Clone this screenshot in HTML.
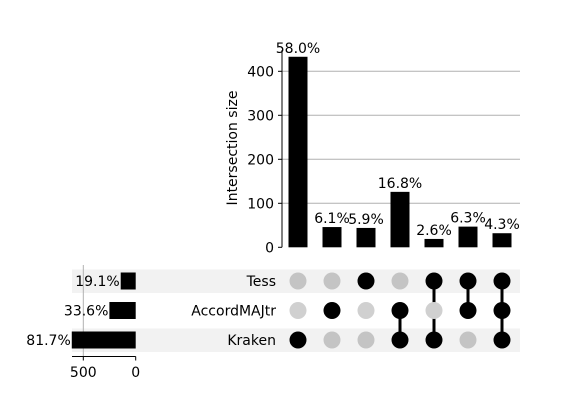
<!DOCTYPE html>
<html><head><meta charset="utf-8"><style>
body{margin:0;background:#fff}
svg text{font-family:"DejaVu Sans","Liberation Sans",sans-serif;font-size:14px;fill:#000}
</style></head><body>
<svg id="c" width="577" height="400" xmlns="http://www.w3.org/2000/svg"></svg>
<script>
const sets = ["Tess","AccordMAJtr","Kraken"];
const setSizes = [143, 251, 610];
const setPct = ["19.1%","33.6%","81.7%"];
const interSizes = [433, 46, 44, 126, 19, 47, 32];
const interPct = ["58.0%","6.1%","5.9%","16.8%","2.6%","6.3%","4.3%"];
const membership = [[2],[1],[0],[1,2],[0,2],[0,1],[0,1,2]];
const yTicks = [0,100,200,300,400];
const xTicks = [500,0];

const svg=document.getElementById('c');
const NS='http://www.w3.org/2000/svg';
function mk(t,a,p){const e=document.createElementNS(NS,t);for(const k in a)e.setAttribute(k,a[k]);(p||svg).appendChild(e);return e;}
const y=v=>247.3-v*0.44;
const cx=i=>298+i*34;
const rowY=j=>281+j*29.5;
const sx=v=>135.7-v*0.1048;

sets.forEach((s,j)=>{ if(j%2===0){const r=mk('rect',{x:72,y:rowY(j)-11.5,width:448,height:23.5,fill:'#f2f2f2'});

}});

yTicks.forEach(t=>{
  if(t>0){const g=mk('line',{x1:282,x2:520,y1:y(t),y2:y(t),stroke:'#b0b0b0','stroke-width':1});
  
  }
  mk('line',{x1:278,x2:282,y1:y(t),y2:y(t),stroke:'#000'});
  const tx=mk('text',{x:274,y:y(t)+5,'text-anchor':'end'});tx.textContent=t;
  
  
});
const ax=mk('line',{x1:282,x2:282,y1:y(0),y2:50,stroke:'#000'});


const yl=mk('text',{x:0,y:0,'text-anchor':'middle',transform:'translate(237,148) rotate(-90)'});yl.textContent='Intersection size';



interSizes.forEach((v,i)=>{
  const b=mk('rect',{x:cx(i)-9.5,y:y(v),width:19,height:y(0)-y(v),fill:'#000'});
  
  
  const t=mk('text',{x:cx(i),y:y(v)-4,'text-anchor':'middle'});t.textContent=interPct[i];
  
  
});

sets.forEach((s,j)=>{
  const t=mk('text',{x:276,y:rowY(j)+5,'text-anchor':'end'});t.textContent=s;
  
  
});
const vg=mk('line',{x1:sx(500),x2:sx(500),y1:265,y2:356,stroke:'#b0b0b0'});


sets.forEach((s,j)=>{
  const b=mk('rect',{x:sx(setSizes[j]),y:rowY(j)-8.5,width:sx(0)-sx(setSizes[j]),height:17,fill:'#000'});
  
  
  const t=mk('text',{x:sx(setSizes[j])-1,y:rowY(j)+5,'text-anchor':'end'});t.textContent=setPct[j];
  
  
});
const xa=mk('line',{x1:72,x2:sx(0),y1:356.5,y2:356.5,stroke:'#000'});


xTicks.forEach(t=>{
  mk('line',{x1:sx(t),x2:sx(t),y1:356.5,y2:360.5,stroke:'#000'});
  const tx=mk('text',{x:sx(t),y:377,'text-anchor':'middle'});tx.textContent=t;
  
  
});

membership.forEach((m,i)=>{
  if(m.length>1){const l=mk('line',{x1:cx(i),x2:cx(i),y1:rowY(Math.min(...m)),y2:rowY(Math.max(...m)),stroke:'#000','stroke-width':3});
  
  }
  sets.forEach((s,j)=>{
    const on=m.includes(j);
    const d=mk('circle',{cx:cx(i),cy:rowY(j),r:8.5,fill:on?'#000':(j%2===0?'#c4c4c4':'#d0d0d0')});
    
    
  });
});
</script>
</body></html>
